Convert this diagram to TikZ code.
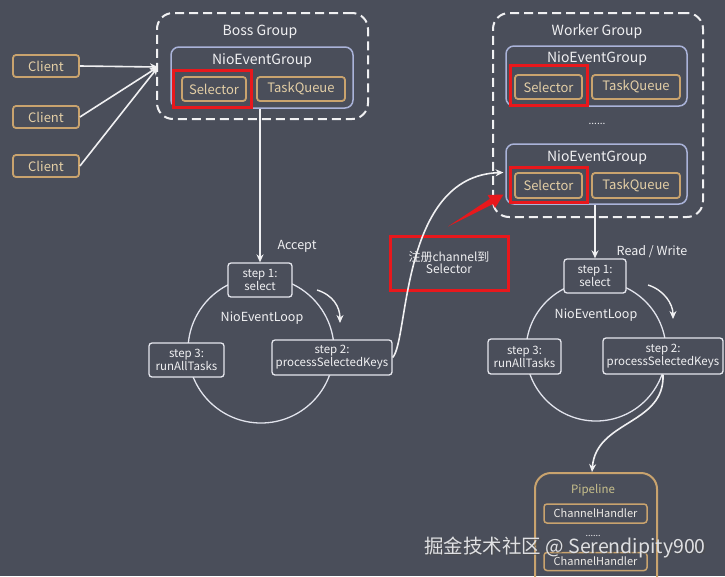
\documentclass[tikz,border=0pt]{standalone}
\usepackage{fontspec}
\setmainfont{Noto Sans CJK SC}
\usetikzlibrary{arrows.meta,calc}
\definecolor{bg}{HTML}{4A4E5A}
\definecolor{orng}{HTML}{C9A36E}
\definecolor{otext}{HTML}{E4CFA6}
\definecolor{lav}{HTML}{AAB3D9}
\definecolor{wht}{HTML}{F0F0F2}
\definecolor{redc}{HTML}{E8181C}
\definecolor{pipetext}{HTML}{C8C08C}
\tikzset{
  fs/.style={font=\fontsize{#1}{#1}\selectfont},
  obox/.style={draw=orng, line width=1.8pt, rounded corners=3pt, fill=bg, text=otext, inner sep=0pt, fs=13},
  grpbox/.style={draw=lav, line width=1.5pt, rounded corners=8pt, inner sep=0pt},
  dashbox/.style={draw=wht, line width=2pt, dash pattern=on 9pt off 5pt, rounded corners=16pt, inner sep=0pt},
  redbox/.style={draw=redc, line width=3pt, inner sep=0pt},
  stepbox/.style={draw=wht!85!lav, line width=1.3pt, rounded corners=3pt, fill=bg, text=wht, inner sep=0pt, align=center, fs=11.5},
  lbl/.style={text=wht, inner sep=0pt},
  conn/.style={draw=wht, line width=1.6pt, -{Stealth[length=8pt,width=7pt]}},
  loop/.style={draw=wht!80!lav, line width=1.3pt},
}
\begin{document}
\begin{tikzpicture}[x=1pt,y=-1pt]
\useasboundingbox (0,0) rectangle (725,576);
\fill[bg] (0,0) rectangle (725,576);
\clip (0,0) rectangle (725,576);

% ---------- Clients ----------
\node[obox, minimum width=66pt, minimum height=22pt] (c1) at (46,66) {Client};
\node[obox, minimum width=66pt, minimum height=22pt] (c2) at (46,117) {Client};
\node[obox, minimum width=66pt, minimum height=22pt] (c3) at (46,166) {Client};

% ---------- Boss group ----------
\node[dashbox, minimum width=211pt, minimum height=106pt] (bossg) at (262.5,66) {};
\node[lbl, fs=14] (bosst) at (260,32) {Boss Group};
\node[grpbox, minimum width=182pt, minimum height=61pt] (bneg) at (262,77.5) {};
\node[lbl, fs=14] (bnegt) at (262,61) {NioEventGroup};
\node[obox, minimum width=64pt, minimum height=24pt] (bsel) at (214,89) {Selector};
\node[obox, minimum width=88pt, minimum height=24pt] (btq) at (301,89) {TaskQueue};
\node[redbox, minimum width=78pt, minimum height=37pt] (bred) at (212,88.5) {};
\coordinate (bin) at (158,67);

\draw[conn] (c1.east) -- (bin);
\draw[conn] (c2.east) -- (bin);
\draw[conn] (c3.east) -- (bin);

% ---------- Boss event loop ----------
\draw[loop] (261,350) circle[radius=73pt];
\node[stepbox, minimum width=64pt, minimum height=34pt] (bs1) at (260,280) {step 1:\\select};
\node[lbl, fs=12.5] (bloopt) at (262,318) {NioEventLoop};
\node[stepbox, minimum width=75pt, minimum height=34pt] (bs3) at (186.5,360) {step 3:\\runAllTasks};
\node[stepbox, minimum width=120pt, minimum height=35pt] (bs2) at (332,357.5) {step 2:\\processSelectedKeys};
\node[lbl, fs=12.5] (acc) at (297,246) {Accept};
\coordinate (bca) at (317,290);
\coordinate (bcb) at (340,323);
\draw[conn, line width=1.4pt] (bca) .. controls (333,295) and (340,307) .. (bcb);
\draw[conn] (bneg.south -| bs1.north) -- (bs1.north);

% ---------- Worker group ----------
\node[dashbox, minimum width=210pt, minimum height=204pt] (wg) at (598,115) {};
\node[lbl, fs=14] (wgt) at (597,32) {Worker Group};
\node[grpbox, minimum width=181pt, minimum height=60pt] (wneg1) at (596.5,76) {};
\node[lbl, fs=14] (wneg1t) at (597,59) {NioEventGroup};
\node[obox, minimum width=67pt, minimum height=24pt] (wsel1) at (548.5,87) {Selector};
\node[obox, minimum width=88pt, minimum height=24pt] (wtq1) at (636,87) {TaskQueue};
\node[redbox, minimum width=77pt, minimum height=40pt] (wr1) at (548.5,85) {};
\node[lbl, fs=10] (wdots) at (597,124) {......};
\node[grpbox, minimum width=181pt, minimum height=60pt] (wneg2) at (596.5,174) {};
\node[lbl, fs=14] (wneg2t) at (597,158) {NioEventGroup};
\node[obox, minimum width=67pt, minimum height=25pt] (wsel2) at (548.5,185.5) {Selector};
\node[obox, minimum width=88pt, minimum height=25pt] (wtq2) at (636,185.5) {TaskQueue};
\node[redbox, minimum width=77pt, minimum height=35pt] (wr2) at (548.5,184.5) {};

% ---------- Worker event loop ----------
\draw[loop] (596,351) circle[radius=70pt];
\node[stepbox, minimum width=62pt, minimum height=34pt] (ws1) at (595,276) {step 1:\\select};
\node[lbl, fs=12.5] (wloopt) at (596,315) {NioEventLoop};
\node[stepbox, minimum width=73pt, minimum height=35pt] (ws3) at (524.5,356.5) {step 3:\\runAllTasks};
\node[stepbox, minimum width=120pt, minimum height=36pt] (ws2) at (663,356) {step 2:\\processSelectedKeys};
\node[lbl, fs=12.5] (rw) at (652,252) {Read / Write};
\coordinate (wca) at (648,285);
\coordinate (wcb) at (673,319);
\draw[conn, line width=1.4pt] (wca) .. controls (664,290) and (673,304) .. (wcb);
\draw[conn] (wneg2.south -| ws1.north) -- (ws1.north);

% ---------- Register note ----------
\node[redbox, minimum width=118pt, minimum height=54pt, align=center, text=wht, fs=12] (reg) at (449,263) {注册channel到\\Selector};
\coordinate (wselin) at ($(wr2.west)+(-5,-12)$);
\draw[conn] (bs2.east) .. controls (409,340) and (400,176) .. (wselin);

% red tapered arrow
\coordinate (rtail) at ($(reg.north)+(-1,-8)$);
\coordinate (rtip) at ($(wr2.south west)+(-5,-9)$);
\coordinate (rhb) at ($(rtip)!14pt!(rtail)$);
\fill[redc] (rtail) -- ($(rhb)!3pt!90:(rtip)$) -- ($(rhb)!7.5pt!90:(rtip)$) -- (rtip)
  -- ($(rhb)!7.5pt!-90:(rtip)$) -- ($(rhb)!3pt!-90:(rtip)$) -- cycle;

% ---------- Pipeline ----------
\draw[orng, line width=2pt, rounded corners=16pt] (535,473) rectangle (657,610);
\coordinate (pipetop) at (592,472);
\node[text=pipetext, inner sep=0pt, fs=11.5] (pipet) at (593,490) {Pipeline};
\node[obox, line width=1.5pt, minimum width=103pt, minimum height=19pt, fs=11, text=wht!85!otext] (ch1) at (595.5,513.5) {ChannelHandler};
\node[lbl, fs=9] (pdots) at (593,536) {......};
\node[obox, line width=1.5pt, minimum width=103pt, minimum height=18pt, fs=11, text=wht!85!otext] (ch2) at (595.5,561.5) {ChannelHandler};
\draw[conn] (ws2.south) .. controls (665,425) and (596,420) .. (pipetop);

% ---------- watermark ----------
\node[text=black!70, opacity=0.6, inner sep=0pt, anchor=west, fs=19.5] (wmsh) at (425.5,548.5) {掘金技术社区 @ Serendipity900};
\node[text=wht!90!bg, inner sep=0pt, anchor=west, fs=19.5] (wm) at (424,547) {掘金技术社区 @ Serendipity900};
\end{tikzpicture}
\end{document}
